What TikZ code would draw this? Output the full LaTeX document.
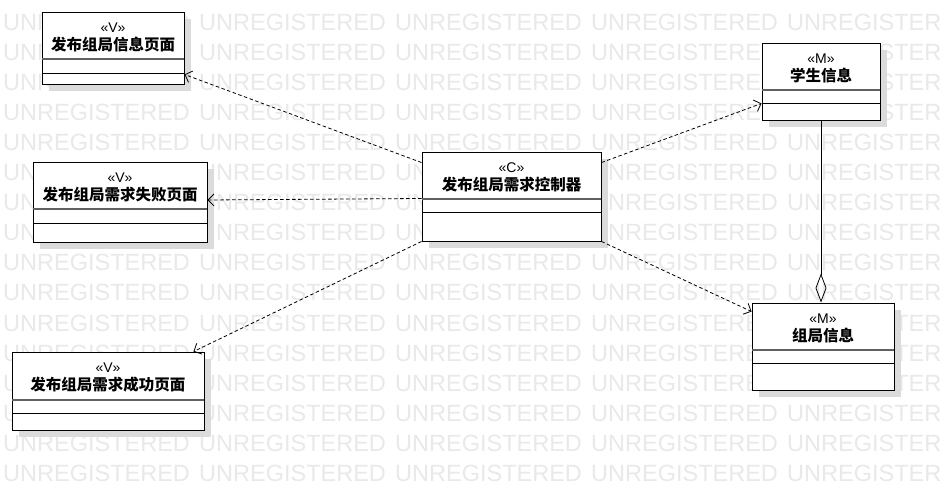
\documentclass[tikz,border=0pt]{standalone}
\usepackage{fontspec}
\setmainfont{Liberation Sans}
\newfontfamily\cjk{Noto Sans CJK SC}
\usetikzlibrary{arrows.meta,calc}
\definecolor{wm}{gray}{0.915}
\definecolor{shd}{gray}{0.86}
\definecolor{sepc}{gray}{0.38}
\tikzset{
  clsbox/.style={draw=black, fill=white, line width=0.9pt, inner sep=0pt},
  stereo/.style={font=\fontsize{14}{16}\selectfont, inner sep=0pt},
  ctitle/.style={font=\cjk\bfseries\fontsize{15.5}{18}\selectfont, inner sep=0pt},
  wmtext/.style={text=wm, font=\fontsize{23.5}{28}\selectfont, inner sep=0pt, anchor=base west},
  dep/.style={line width=0.8pt, dash pattern=on 3.5pt off 2.5pt, -{Straight Barb[length=6pt,width=12pt]}},
  agg/.style={line width=0.8pt, -{Diamond[open,length=29pt,width=11pt,line width=0.8pt]}}
}
% name, x1, y1, x2, y2, sep1, sep2, stereotype, title
\newcommand{\umlcls}[9]{%
  \fill[shd] (#2+7,#3+7) rectangle (#4+7,#5+7);
  \node[clsbox, minimum width={(#4-#2)*1pt}, minimum height={(#5-#3)*1pt}] (#1) at ({(#2+#4)/2},{(#3+#5)/2}) {};
  \draw[sepc, line width=1.6pt] (#2,#6) -- (#4,#6);
  \draw[black, line width=0.8pt] (#2,#7) -- (#4,#7);
  \node[stereo] (#1s) at ({(#2+#4)/2},#3+16) {«#8»};
  \node[ctitle] (#1t) at ({(#2+#4)/2},#3+33) {#9};
}
\begin{document}
\begin{tikzpicture}[x=1pt,y=-1pt]
\clip (0,0) rectangle (943,481);
\fill[white] (0,0) rectangle (943,481);
\foreach \k in {0,...,15}{
  \foreach \j in {0,...,4}{
    \node[wmtext] (wm\k-\j) at ({3+196*\j},{31+30*\k}) {UNREGISTERED};
  }
}
\umlcls{vone}{42}{12}{184}{84}{59}{73}{V}{发布组局信息页面}
\umlcls{vtwo}{33}{162}{207}{242}{209}{223}{V}{发布组局需求失败页面}
\umlcls{vthree}{12}{352}{204}{430}{400}{413}{V}{发布组局需求成功页面}
\umlcls{ctl}{422}{152}{601}{241}{199}{212}{C}{发布组局需求控制器}
\umlcls{mone}{762}{43}{880}{120}{90}{103}{M}{学生信息}
\umlcls{mtwo}{752}{303}{894}{390}{350}{363}{M}{组局信息}

\draw[dep] ($(ctl.north west)+(0,11)$) -- ($(vone.south east)+(0,-10)$);
\draw[dep] ($(ctl.west)+(0,2)$) -- ($(vtwo.east)+(0,-2)$);
\draw[dep] (ctl.south west) -- ($(vthree.north east)+(-11,0)$);
\draw[dep] ($(ctl.north east)+(0,11)$) -- ($(mone.south west)+(0,-17)$);
\draw[dep] (ctl.south east) -- ($(mtwo.north west)+(0,9)$);
\draw[agg] (mone.south) -- (mone.south |- mtwo.north);
\end{tikzpicture}
\end{document}
